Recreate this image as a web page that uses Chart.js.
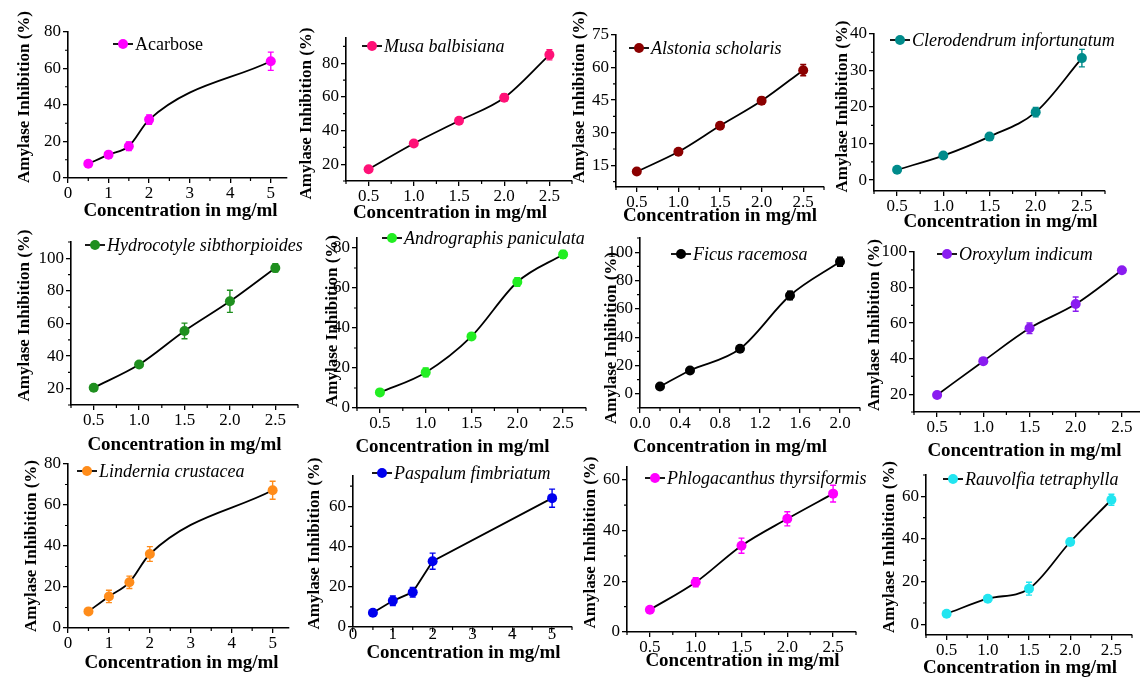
<!DOCTYPE html>
<html>
<head>
<meta charset="utf-8">
<script src="https://cdn.jsdelivr.net/npm/chart.js@4.4.1/dist/chart.umd.min.js"></script>
<style>
  html, body { margin: 0; padding: 0; background: #fff; overflow: hidden; }
  #wrap { position: relative; width: 1140px; height: 679px; }
  #wrap canvas { position: absolute; }
</style>
</head>
<body>
<div id="wrap"></div>
<script>
// concentrations (mg/ml)
const conc = [0.5, 1.0, 1.5, 2.0, 2.5];
const concWide = [0.5, 1, 1.5, 2, 5];
const concFicus = [0.2, 0.5, 1.0, 1.5, 2.0];

// amylase inhibition (%) and error bars
const acarbose = [7.8, 12.8, 17.4, 32.0, 64.0];
const acarboseErr = [1.0, 1.6, 2.4, 2.6, 5.0];
const musa = [17.0, 32.3, 45.8, 59.5, 85.0];
const musaErr = [1.0, 1.2, 1.5, 2.2, 3.0];
const alstonia = [12.1, 21.2, 33.2, 44.7, 58.8];
const alstoniaErr = [0.8, 1.0, 1.2, 1.6, 2.6];
const clerodendrum = [2.8, 6.7, 11.9, 18.6, 33.4];
const clerodendrumErr = [0.4, 0.5, 0.6, 1.3, 2.4];
const hydrocotyle = [20.6, 34.8, 55.4, 73.6, 94.1];
const hydrocotyleErr = [1.0, 1.6, 4.8, 6.8, 2.6];
const andrographis = [7.8, 17.8, 35.8, 63.0, 76.8];
const andrographisErr = [1.0, 2.2, 1.2, 2.2, 2.0];
const ficus = [5.2, 16.5, 31.8, 69.4, 93.2];
const ficusErr = [0.8, 1.2, 1.8, 3.0, 3.2];
const oroxylum = [19.6, 38.6, 57.1, 70.7, 89.7];
const oroxylumErr = [1.0, 1.2, 3.0, 4.0, 1.2];
const lindernia = [8.1, 15.4, 22.3, 36.1, 67.2];
const linderniaErr = [1.2, 3.0, 3.0, 3.6, 4.4];
const paspalum = [7.1, 13.0, 17.3, 32.7, 64.0];
const paspalumErr = [1.0, 2.4, 2.4, 4.0, 4.5];
const phlogacanthus = [8.8, 19.6, 34.0, 44.6, 54.5];
const phlogacanthusErr = [0.6, 1.8, 3.0, 2.8, 3.3];
const rauvolfia = [5.0, 12.0, 16.7, 38.6, 58.4];
const rauvolfiaErr = [0.8, 1.0, 3.0, 1.6, 2.6];

// tick labels
const xTicksConc = [0.5, 1.0, 1.5, 2.0, 2.5];
const xTicksWide = [0, 1, 2, 3, 4, 5];
const xTicksFicus = [0.0, 0.4, 0.8, 1.2, 1.6, 2.0];
const yTicks0to80 = [0, 20, 40, 60, 80];
const yTicks20to80 = [20, 40, 60, 80];
const yTicks15to75 = [15, 30, 45, 60, 75];
const yTicks0to40 = [0, 10, 20, 30, 40];
const yTicks20to100 = [20, 40, 60, 80, 100];
const yTicks0to100 = [0, 20, 40, 60, 80, 100];
const yTicks0to60 = [0, 20, 40, 60];

const xTitle = "Concentration in mg/ml";
const yTitle = "Amylase Inhibition (%)";
const SERIF = "'Liberation Serif', 'Times New Roman', serif";

// box = plot area on the page [left, top, right, bottom]
const panels = [
  { name: "Acarbose", italic: false, color: "#ff00ff", x: concWide, y: acarbose, err: acarboseErr,
    xTicks: xTicksWide, yTicks: yTicks0to80, xDec: 0, box: [68, 32, 287, 178],
    xMin: 0, xMax: 5.4, yMin: 0, yMax: 80, legend: [55, 12], yGap: 43, yDy: -8, xGap: 33, xDx: 3 },
  { name: "Musa balbisiana", italic: true, color: "#ff1177", x: conc, y: musa, err: musaErr,
    xTicks: xTicksConc, yTicks: yTicks20to80, xDec: 1, box: [346, 38, 572, 181],
    xMin: 0.25, xMax: 2.75, yMin: 10, yMax: 95, legend: [26, 8], yGap: 39, yDy: 4, xGap: 32, xDx: -9 },
  { name: "Alstonia scholaris", italic: true, color: "#8b0000", x: conc, y: alstonia, err: alstoniaErr,
    xTicks: xTicksConc, yTicks: yTicks15to75, xDec: 1, box: [616, 35, 824, 187],
    xMin: 0.25, xMax: 2.75, yMin: 5, yMax: 75, legend: [23, 13], yGap: 36, yDy: -14, xGap: 29, xDx: 0 },
  { name: "Clerodendrum infortunatum", italic: true, color: "#008b8b", x: conc, y: clerodendrum, err: clerodendrumErr,
    xTicks: xTicksConc, yTicks: yTicks0to40, xDec: 1, box: [874, 34, 1105, 191],
    xMin: 0.25, xMax: 2.75, yMin: -3, yMax: 40, legend: [26, 6], yGap: 31, yDy: -6, xGap: 31, xDx: 11 },
  { name: "Hydrocotyle sibthorpioides", italic: true, color: "#1f8f1f", x: conc, y: hydrocotyle, err: hydrocotyleErr,
    xTicks: xTicksConc, yTicks: yTicks20to100, xDec: 1, box: [71, 242, 298, 405],
    xMin: 0.25, xMax: 2.75, yMin: 10, yMax: 110, legend: [24, 3], yGap: 46, yDy: -8, xGap: 40, xDx: 0 },
  { name: "Andrographis paniculata", italic: true, color: "#22ee22", x: conc, y: andrographis, err: andrographisErr,
    xTicks: xTicksConc, yTicks: yTicks0to80, xDec: 1, box: [357, 238, 586, 408],
    xMin: 0.25, xMax: 2.75, yMin: 0, yMax: 85, legend: [35, 0], yGap: 24, yDy: -2, xGap: 39, xDx: -19 },
  { name: "Ficus racemosa", italic: true, color: "#000000", x: concFicus, y: ficus, err: ficusErr,
    xTicks: xTicksFicus, yTicks: yTicks0to100, xDec: 1, box: [640, 238, 860, 408],
    xMin: 0, xMax: 2.2, yMin: -10, yMax: 110, legend: [41, 16], yGap: 28, yDy: 15, xGap: 39, xDx: -20 },
  { name: "Oroxylum indicum", italic: true, color: "#8a1cf0", x: conc, y: oroxylum, err: oroxylumErr,
    xTicks: xTicksConc, yTicks: yTicks20to100, xDec: 1, box: [914, 252, 1145, 412],
    xMin: 0.25, xMax: 2.75, yMin: 10, yMax: 100, legend: [33, 2], yGap: 39, yDy: -7, xGap: 39, xDx: -5 },
  { name: "Lindernia crustacea", italic: true, color: "#ff8c1a", x: concWide, y: lindernia, err: linderniaErr,
    xTicks: xTicksWide, yTicks: yTicks0to80, xDec: 0, box: [68, 464, 289, 628],
    xMin: 0, xMax: 5.4, yMin: 0, yMax: 80, legend: [19, 7], yGap: 36, yDy: 0, xGap: 35, xDx: 3 },
  { name: "Paspalum fimbriatum", italic: true, color: "#0000ee", x: concWide, y: paspalum, err: paspalumErr,
    xTicks: xTicksWide, yTicks: yTicks0to60, xDec: 0, box: [353, 476, 572, 627], straight: true, xPad: -8,
    xMin: 0, xMax: 5.5, yMin: 0, yMax: 75, legend: [29, -3], yGap: 38, yDy: -8, xGap: 26, xDx: 1 },
  { name: "Phlogacanthus thyrsiformis", italic: true, color: "#ff00ff", x: conc, y: phlogacanthus, err: phlogacanthusErr,
    xTicks: xTicksConc, yTicks: yTicks0to60, xDec: 1, box: [627, 467, 856, 632],
    xMin: 0.25, xMax: 2.75, yMin: 0, yMax: 65, legend: [28, 11], yGap: 36, yDy: -7, xGap: 29, xDx: 1 },
  { name: "Rauvolfia tetraphylla", italic: true, color: "#22e5f0", x: conc, y: rauvolfia, err: rauvolfiaErr,
    xTicks: xTicksConc, yTicks: yTicks0to60, xDec: 1, box: [926, 475, 1132, 635],
    xMin: 0.25, xMax: 2.75, yMin: -5, yMax: 70, legend: [27, 4], yGap: 36, yDy: -8, xGap: 33, xDx: -9 }
];

const W = 62, T = 32, H = 54, R = 45;

function minorValues(majors, min, max) {
  const step = majors[1] - majors[0];
  const out = [];
  for (let v = majors[0] - step / 2; v <= max + 1e-9; v += step) {
    if (v >= min - 1e-9) out.push(v);
  }
  return out;
}

function makeDecor(p) {
  return {
    id: "decor",
    beforeDatasetsDraw(chart) {
      const { ctx, scales: { x, y } } = chart;
      ctx.save();
      ctx.strokeStyle = p.color;
      ctx.lineWidth = 1.4;
      p.x.forEach((xv, i) => {
        const px = x.getPixelForValue(xv);
        const top = y.getPixelForValue(p.y[i] + p.err[i]);
        const bot = y.getPixelForValue(p.y[i] - p.err[i]);
        ctx.beginPath();
        ctx.moveTo(px, top); ctx.lineTo(px, bot);
        ctx.moveTo(px - 3, top); ctx.lineTo(px + 3, top);
        ctx.moveTo(px - 3, bot); ctx.lineTo(px + 3, bot);
        ctx.stroke();
      });
      ctx.restore();
    },
    afterDraw(chart) {
      const { ctx, chartArea: a, scales: { x, y } } = chart;
      ctx.save();
      // minor ticks
      ctx.strokeStyle = "#000";
      ctx.lineWidth = 1.2;
      ctx.beginPath();
      minorValues(p.xTicks, p.xMin, p.xMax).forEach(v => {
        const px = x.getPixelForValue(v);
        ctx.moveTo(px, a.bottom); ctx.lineTo(px, a.bottom + 3);
      });
      minorValues(p.yTicks, p.yMin, p.yMax).forEach(v => {
        const py = y.getPixelForValue(v);
        ctx.moveTo(a.left, py); ctx.lineTo(a.left - 3, py);
      });
      ctx.stroke();

      // legend
      const cx = a.left + p.legend[0], cy = a.top + p.legend[1];
      ctx.lineWidth = 1.8;
      ctx.beginPath();
      ctx.moveTo(cx - 10, cy); ctx.lineTo(cx + 10, cy);
      ctx.stroke();
      ctx.fillStyle = p.color;
      ctx.beginPath();
      ctx.arc(cx, cy, 5, 0, Math.PI * 2);
      ctx.fill();
      ctx.fillStyle = "#000";
      ctx.font = (p.italic ? "italic " : "") + "18px " + SERIF;
      ctx.textAlign = "left";
      ctx.textBaseline = "middle";
      ctx.fillText(p.name, cx + 12, cy + 1);

      // axis titles
      ctx.textAlign = "center";
      ctx.font = "bold 19px " + SERIF;
      ctx.fillText(xTitle, (a.left + a.right) / 2 + p.xDx, a.bottom + p.xGap);
      ctx.font = "bold 17px " + SERIF;
      ctx.translate(a.left - p.yGap, (a.top + a.bottom) / 2 + p.yDy);
      ctx.rotate(-Math.PI / 2);
      ctx.fillText(yTitle, 0, 0);
      ctx.restore();
    }
  };
}

const wrap = document.getElementById("wrap");

panels.forEach(p => {
  const [x0, y0, x1, y1] = p.box;
  const cv = document.createElement("canvas");
  cv.width = W + (x1 - x0) + R;
  cv.height = T + (y1 - y0) + H;
  cv.style.left = (x0 - W) + "px";
  cv.style.top = (y0 - T) + "px";
  wrap.appendChild(cv);

  const tickFont = { family: SERIF, size: 17 };
  new Chart(cv, {
    type: "line",
    data: {
      datasets: [{
        data: p.x.map((v, i) => ({ x: v, y: p.y[i] })),
        borderColor: "#000",
        borderWidth: 1.8,
        pointRadius: 5,
        pointBackgroundColor: p.color,
        pointBorderColor: p.color,
        pointBorderWidth: 0,
        cubicInterpolationMode: p.straight ? "default" : "monotone",
        tension: 0,
        fill: false
      }]
    },
    options: {
      responsive: false,
      animation: false,
      events: [],
      layout: { padding: { top: T, right: R, left: 0, bottom: 0 }, autoPadding: false },
      plugins: { legend: { display: false }, tooltip: { enabled: false } },
      scales: {
        x: {
          type: "linear",
          min: p.xMin,
          max: p.xMax,
          afterFit(s) { s.height = H; },
          afterBuildTicks(s) { s.ticks = p.xTicks.map(v => ({ value: v })); },
          ticks: {
            font: tickFont, color: "#000", padding: p.xPad || 0, maxRotation: 0, autoSkip: false,
            callback: v => Number(v).toFixed(p.xDec)
          },
          grid: { drawOnChartArea: false, drawTicks: true, tickLength: 5, color: "#000", lineWidth: 1.3 },
          border: { color: "#000", width: 1.6 }
        },
        y: {
          type: "linear",
          min: p.yMin,
          max: p.yMax,
          afterFit(s) { s.width = W; },
          afterBuildTicks(s) { s.ticks = p.yTicks.map(v => ({ value: v })); },
          ticks: { font: tickFont, color: "#000", padding: 2, autoSkip: false },
          grid: { drawOnChartArea: false, drawTicks: true, tickLength: 5, color: "#000", lineWidth: 1.3 },
          border: { color: "#000", width: 1.6 }
        }
      }
    },
    plugins: [makeDecor(p)]
  });
});
</script>
</body>
</html>
